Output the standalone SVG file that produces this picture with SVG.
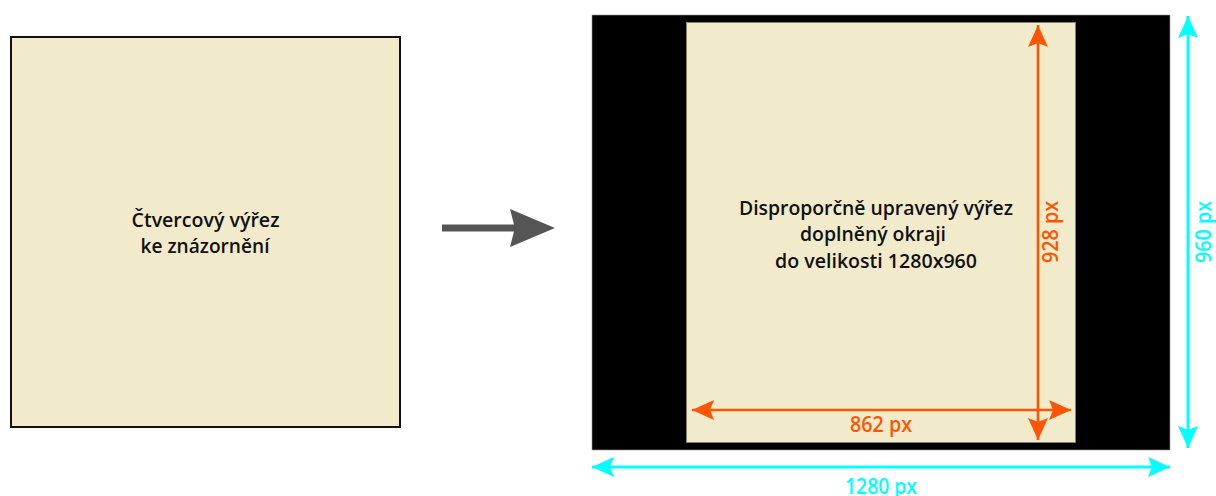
<svg xmlns="http://www.w3.org/2000/svg" width="1216" height="496" viewBox="0 0 1216 496">
  <style>
    .lbl { font-family: "Open Sans", "Liberation Sans", sans-serif; font-weight: 600; font-size: 20px; fill: #111; text-anchor: middle; }
    .dim { font-family: "Open Sans", "Liberation Sans", sans-serif; font-weight: 600; font-size: 21px; text-anchor: middle; }
    .orange { fill: #FF5500; }
    .cyan { fill: #00FFFF; }
    .beige { fill: #F1EBCC; }
    .ln-o { stroke: #FF5500; stroke-width: 2.6; fill: none; marker-start: url(#head-o); marker-end: url(#head-o); }
    .ln-c { stroke: #00FFFF; stroke-width: 3; fill: none; marker-start: url(#head-c); marker-end: url(#head-c); }
  </style>
  <defs>
    <marker id="head-o" viewBox="0 0 22 20" refX="22" refY="10" markerWidth="22" markerHeight="20" markerUnits="userSpaceOnUse" orient="auto-start-reverse">
      <path d="M0,0 L22,10 L0,20 L4,10 Z" fill="#FF5500"/>
    </marker>
    <marker id="head-c" viewBox="0 0 22 20" refX="22" refY="10" markerWidth="22" markerHeight="20" markerUnits="userSpaceOnUse" orient="auto-start-reverse">
      <path d="M0,0 L22,10 L0,20 L4,10 Z" fill="#00FFFF"/>
    </marker>
  </defs>

  <!-- square crop -->
  <g id="square-crop">
    <rect x="11" y="37" width="389" height="390" class="beige" stroke="#111" stroke-width="2"/>
    <text class="lbl" x="205.5" y="226.5" textLength="148" lengthAdjust="spacingAndGlyphs">Čtvercový výřez</text>
    <text class="lbl" x="205" y="253" textLength="129" lengthAdjust="spacingAndGlyphs">ke znázornění</text>
  </g>

  <!-- resized crop with black borders -->
  <g id="padded-frame">
    <rect x="592" y="15" width="578" height="435" fill="#000" stroke="#999" stroke-width="0.6"/>
    <rect x="686.5" y="22.5" width="389" height="420" class="beige" stroke="#8a8470" stroke-width="0.8"/>
    <text class="lbl" x="876" y="215" textLength="274" lengthAdjust="spacingAndGlyphs">Disproporčně upravený výřez</text>
    <text class="lbl" x="873" y="241" textLength="146" lengthAdjust="spacingAndGlyphs">doplněný okraji</text>
    <text class="lbl" x="876" y="268" textLength="202" lengthAdjust="spacingAndGlyphs">do velikosti 1280x960</text>
  </g>

  <!-- connectors and dimension lines -->
  <g id="connectors">
    <path d="M442,224.5 H514 L510,209 L555,228 L510,247 L514,231.5 H442 Z" fill="#555"/>
    <line class="ln-o" x1="692" y1="410" x2="1071" y2="410"/>
    <line class="ln-o" x1="1038" y1="25" x2="1038" y2="440"/>
    <line class="ln-c" x1="592" y1="467" x2="1170" y2="467"/>
    <line class="ln-c" x1="1188" y1="16" x2="1188" y2="448"/>
  </g>

  <!-- dimension labels -->
  <g id="dimension-labels">
    <text class="dim orange" x="881" y="432" textLength="62" lengthAdjust="spacingAndGlyphs">862 px</text>
    <text class="dim orange" transform="translate(1058,232) rotate(-90)" textLength="62" lengthAdjust="spacingAndGlyphs">928 px</text>
    <text class="dim cyan" x="881" y="494" textLength="72" lengthAdjust="spacingAndGlyphs">1280 px</text>
    <text class="dim cyan" transform="translate(1211,232) rotate(-90)" textLength="62" lengthAdjust="spacingAndGlyphs">960 px</text>
  </g>
</svg>
